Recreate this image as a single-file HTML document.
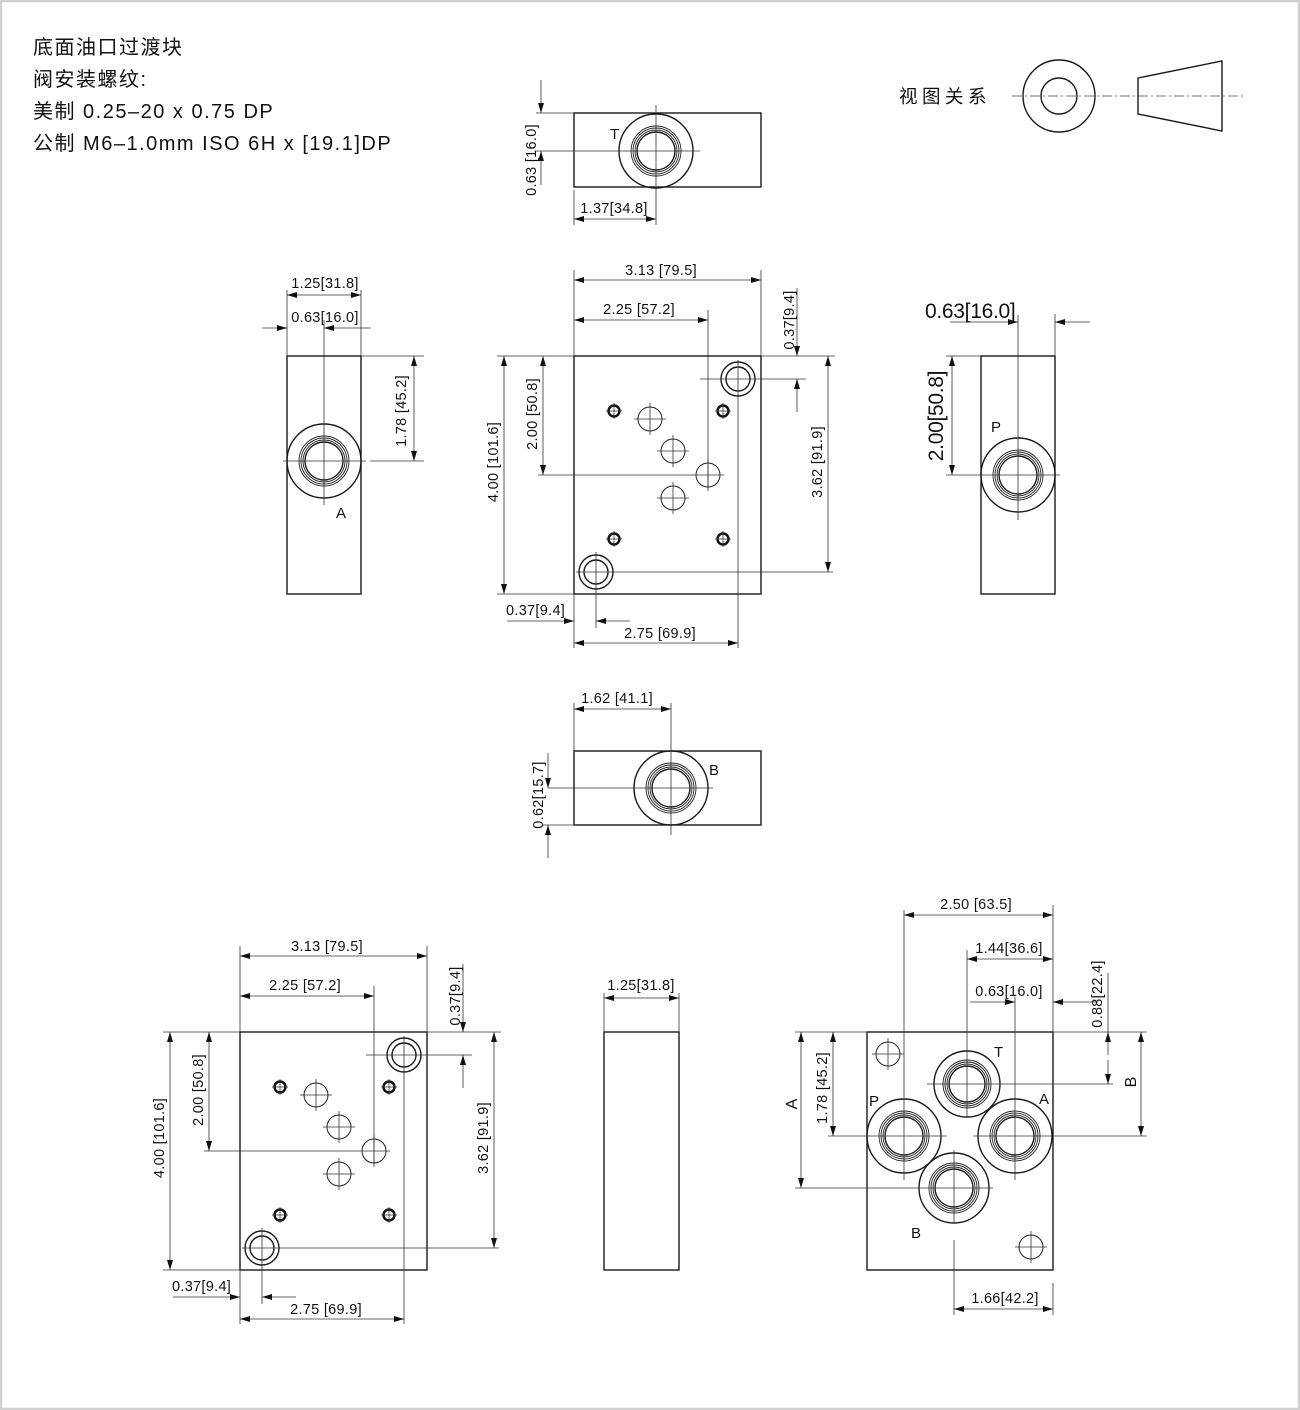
<!DOCTYPE html>
<html><head><meta charset="utf-8"><style>
html,body{margin:0;padding:0;background:#fff}
svg{display:block}
text{font-family:"Liberation Sans","Noto Sans CJK SC",sans-serif;fill:#111}
.d{font-size:14.5px;letter-spacing:0.3px}
.h{font-size:20px;letter-spacing:1.5px}
.o{fill:none;stroke:#1a1a1a;stroke-width:1.4}
.t{fill:none;stroke:#333;stroke-width:0.8}
.a{stroke:#333;stroke-width:0.8;marker-end:url(#ar)}
.b{stroke:#333;stroke-width:0.8;marker-end:url(#ar);marker-start:url(#ar)}
.r{fill:none;stroke:#222;stroke-width:0.9}
</style></head><body>
<svg width="1300" height="1410" viewBox="0 0 1300 1410" xmlns="http://www.w3.org/2000/svg">
<defs>
<marker id="ar" viewBox="0 0 10 6" refX="10" refY="3" markerWidth="10" markerHeight="6" markerUnits="userSpaceOnUse" orient="auto-start-reverse"><path d="M0,0L10,3L0,6z" fill="#111"/></marker>
</defs>
<rect x="1" y="1" width="1298" height="1408" fill="none" stroke="#d0d0d0" stroke-width="2.5"/>

<text class="h" x="33" y="54">底面油口过渡块</text>
<text class="h" x="33" y="86">阀安装螺纹:</text>
<text class="h" x="33" y="118">美制 0.25–20 x 0.75 DP</text>
<text class="h" x="33" y="150">公制 M6–1.0mm ISO 6H x [19.1]DP</text>

<text x="899" y="103" font-size="18.5" letter-spacing="4.5">视图关系</text>
<line x1="1012" y1="96" x2="1245" y2="96" stroke="#777" stroke-width="0.9" stroke-dasharray="10,3,2,3"/>
<circle cx="1059" cy="96" r="36" class="o"/>
<circle cx="1059" cy="96" r="18" class="o"/>
<path d="M1138,78 L1222,61 L1222,131 L1138,114 Z" class="o"/>

<rect x="574" y="113" width="187" height="74" class="o"/>
<circle cx="656" cy="151" r="37" class="o"/>
<circle cx="656" cy="151" r="19" class="o"/>
<circle cx="656" cy="151" r="21" class="r"/><circle cx="656" cy="151" r="23" class="r"/><circle cx="656" cy="151" r="25" class="r"/>
<line x1="656" y1="105" x2="656" y2="225" class="t"/>
<line x1="536" y1="151" x2="700" y2="151" class="t"/>
<line x1="536" y1="113" x2="574" y2="113" class="t"/>
<line x1="574" y1="190" x2="574" y2="225" class="t"/>
<line x1="541" y1="80" x2="541" y2="113" class="a"/>
<line x1="541" y1="185" x2="541" y2="151" class="a"/>
<text class="d" transform="translate(536,160) rotate(-90)" text-anchor="middle">0.63 [16.0]</text>
<line x1="574" y1="219" x2="656" y2="219" class="b"/>
<text class="d" x="614" y="213" text-anchor="middle">1.37[34.8]</text>
<text x="610" y="139" font-size="15">T</text>

<g id="mv">
<rect x="574" y="356" width="187" height="238" class="o"/>
<circle cx="738" cy="379" r="17" class="o"/><circle cx="738" cy="379" r="12" class="o"/>
<circle cx="596" cy="572" r="17" class="o"/><circle cx="596" cy="572" r="12" class="o"/>
<g fill="none" stroke="#111" stroke-width="2.4">
<circle cx="614" cy="411" r="5.5"/><circle cx="723" cy="411" r="5.5"/><circle cx="614" cy="539" r="5.5"/><circle cx="723" cy="539" r="5.5"/>
</g>
<g class="t">
<path d="M606,411h16M614,403v16M715,411h16M723,403v16M606,539h16M614,531v16M715,539h16M723,531v16"/>
</g>
<g fill="none" stroke="#222" stroke-width="1">
<circle cx="650" cy="419" r="12"/><circle cx="673" cy="451" r="12"/><circle cx="708" cy="475" r="12"/><circle cx="673" cy="498" r="12"/>
</g>
<path class="t" d="M634,419h32M650,403v32M657,451h32M673,435v32M657,498h32M673,482v32M708,459v32"/>
<line x1="574" y1="270" x2="574" y2="356" class="t"/>
<line x1="761" y1="270" x2="761" y2="356" class="t"/>
<line x1="574" y1="280" x2="761" y2="280" class="b"/>
<text class="d" x="661" y="275" text-anchor="middle">3.13 [79.5]</text>
<line x1="574" y1="320" x2="708" y2="320" class="b"/>
<line x1="708" y1="310" x2="708" y2="488" class="t"/>
<text class="d" x="639" y="314" text-anchor="middle">2.25 [57.2]</text>
<line x1="761" y1="356" x2="835" y2="356" class="t"/>
<line x1="700" y1="379" x2="806" y2="379" class="t"/>
<line x1="797" y1="288" x2="797" y2="356" class="a"/>
<line x1="797" y1="412" x2="797" y2="379" class="a"/>
<text class="d" transform="translate(794,320) rotate(-90)" text-anchor="middle">0.37[9.4]</text>
<line x1="497" y1="356" x2="574" y2="356" class="t"/>
<line x1="497" y1="594" x2="574" y2="594" class="t"/>
<line x1="504" y1="356" x2="504" y2="594" class="b"/>
<text class="d" transform="translate(498,462) rotate(-90)" text-anchor="middle">4.00 [101.6]</text>
<line x1="538" y1="475" x2="724" y2="475" class="t"/>
<line x1="543" y1="356" x2="543" y2="475" class="b"/>
<text class="d" transform="translate(537,414) rotate(-90)" text-anchor="middle">2.00 [50.8]</text>
<line x1="576" y1="572" x2="833" y2="572" class="t"/>
<line x1="828" y1="356" x2="828" y2="572" class="b"/>
<text class="d" transform="translate(822,462) rotate(-90)" text-anchor="middle">3.62 [91.9]</text>
<line x1="574" y1="594" x2="574" y2="648" class="t"/>
<line x1="596" y1="552" x2="596" y2="628" class="t"/>
<line x1="738" y1="360" x2="738" y2="648" class="t"/>
<line x1="507" y1="621" x2="574" y2="621" class="a"/>
<line x1="630" y1="621" x2="596" y2="621" class="a"/>
<text class="d" x="506" y="615">0.37[9.4]</text>
<line x1="574" y1="643" x2="738" y2="643" class="b"/>
<text class="d" x="660" y="638" text-anchor="middle">2.75 [69.9]</text>
</g>

<rect x="287" y="356" width="74" height="238" class="o"/>
<circle cx="324" cy="461" r="37" class="o"/>
<circle cx="324" cy="461" r="19" class="o"/>
<circle cx="324" cy="461" r="21" class="r"/><circle cx="324" cy="461" r="23" class="r"/><circle cx="324" cy="461" r="25" class="r"/>
<line x1="324" y1="320" x2="324" y2="505" class="t"/>
<line x1="283" y1="461" x2="366" y2="461" class="t"/>
<line x1="287" y1="290" x2="287" y2="356" class="t"/>
<line x1="361" y1="290" x2="361" y2="356" class="t"/>
<line x1="287" y1="295" x2="361" y2="295" class="b"/>
<text class="d" x="325" y="288" text-anchor="middle">1.25[31.8]</text>
<line x1="262" y1="328" x2="287" y2="328" class="a"/>
<line x1="371" y1="328" x2="324" y2="328" class="a"/>
<text class="d" x="325" y="322" text-anchor="middle">0.63[16.0]</text>
<line x1="361" y1="356" x2="424" y2="356" class="t"/>
<line x1="370" y1="461" x2="424" y2="461" class="t"/>
<line x1="414" y1="356" x2="414" y2="461" class="b"/>
<text class="d" transform="translate(406,411) rotate(-90)" text-anchor="middle">1.78 [45.2]</text>
<text x="336" y="518" font-size="15">A</text>

<rect x="981" y="356" width="74" height="238" class="o"/>
<circle cx="1018" cy="475" r="37" class="o"/>
<circle cx="1018" cy="475" r="19" class="o"/>
<circle cx="1018" cy="475" r="21" class="r"/><circle cx="1018" cy="475" r="23" class="r"/><circle cx="1018" cy="475" r="25" class="r"/>
<line x1="1018" y1="315" x2="1018" y2="520" class="t"/>
<line x1="946" y1="475" x2="1060" y2="475" class="t"/>
<line x1="946" y1="356" x2="981" y2="356" class="t"/>
<line x1="1055" y1="314" x2="1055" y2="356" class="t"/>
<line x1="950" y1="322" x2="1018" y2="322" class="a"/>
<line x1="1090" y1="322" x2="1055" y2="322" class="a"/>
<text x="925" y="318" font-size="21" letter-spacing="-0.3">0.63[16.0]</text>
<line x1="952" y1="356" x2="952" y2="475" class="b"/>
<text transform="translate(943,416) rotate(-90)" text-anchor="middle" font-size="21" letter-spacing="-0.3">2.00[50.8]</text>
<text x="991" y="432" font-size="15">P</text>

<rect x="574" y="751" width="187" height="74" class="o"/>
<circle cx="671" cy="788" r="37" class="o"/>
<circle cx="671" cy="788" r="19" class="o"/>
<circle cx="671" cy="788" r="21" class="r"/><circle cx="671" cy="788" r="23" class="r"/><circle cx="671" cy="788" r="25" class="r"/>
<line x1="671" y1="703" x2="671" y2="835" class="t"/>
<line x1="548" y1="788" x2="713" y2="788" class="t"/>
<line x1="543" y1="825" x2="574" y2="825" class="t"/>
<line x1="574" y1="703" x2="574" y2="751" class="t"/>
<line x1="574" y1="709" x2="671" y2="709" class="b"/>
<text class="d" x="617" y="703" text-anchor="middle">1.62 [41.1]</text>
<line x1="548" y1="753" x2="548" y2="788" class="a"/>
<line x1="548" y1="858" x2="548" y2="825" class="a"/>
<text class="d" transform="translate(543,795) rotate(-90)" text-anchor="middle">0.62[15.7]</text>
<text x="709" y="775" font-size="15">B</text>

<use href="#mv" transform="translate(-334,676)"/>

<rect x="604" y="1032" width="75" height="238" class="o"/>
<line x1="604" y1="993" x2="604" y2="1032" class="t"/>
<line x1="679" y1="993" x2="679" y2="1032" class="t"/>
<line x1="604" y1="998" x2="679" y2="998" class="b"/>
<text class="d" x="641" y="990" text-anchor="middle">1.25[31.8]</text>

<rect x="867" y="1032" width="186" height="238" class="o"/>
<circle cx="888" cy="1054" r="12" fill="none" stroke="#222" stroke-width="1"/>
<circle cx="1031" cy="1247" r="12" fill="none" stroke="#222" stroke-width="1"/>
<path class="t" d="M872,1054h32M888,1038v32M1015,1247h32M1031,1231v32"/>
<g>
<circle cx="967" cy="1084" r="33" class="o"/><circle cx="967" cy="1084" r="18" class="o"/>
<circle cx="967" cy="1084" r="20" class="r"/><circle cx="967" cy="1084" r="22" class="r"/><circle cx="967" cy="1084" r="24" class="r"/>
<circle cx="904" cy="1136" r="37" class="o"/><circle cx="904" cy="1136" r="19" class="o"/>
<circle cx="904" cy="1136" r="21" class="r"/><circle cx="904" cy="1136" r="23" class="r"/><circle cx="904" cy="1136" r="25" class="r"/>
<circle cx="1015" cy="1136" r="37" class="o"/><circle cx="1015" cy="1136" r="19" class="o"/>
<circle cx="1015" cy="1136" r="21" class="r"/><circle cx="1015" cy="1136" r="23" class="r"/><circle cx="1015" cy="1136" r="25" class="r"/>
<circle cx="954" cy="1188" r="35" class="o"/><circle cx="954" cy="1188" r="19" class="o"/>
<circle cx="954" cy="1188" r="21" class="r"/><circle cx="954" cy="1188" r="23" class="r"/><circle cx="954" cy="1188" r="25" class="r"/>
</g>
<g class="t">
<line x1="904" y1="910" x2="904" y2="1180"/>
<line x1="1053" y1="905" x2="1053" y2="1032"/>
<line x1="967" y1="950" x2="967" y2="1117"/>
<line x1="1015" y1="997" x2="1015" y2="1180"/>
<line x1="927" y1="1084" x2="1113" y2="1084"/>
<line x1="1053" y1="1032" x2="1147" y2="1032"/>
<line x1="973" y1="1136" x2="1147" y2="1136"/>
<line x1="828" y1="1136" x2="947" y2="1136"/>
<line x1="795" y1="1032" x2="867" y2="1032"/>
<line x1="795" y1="1188" x2="993" y2="1188"/>
<line x1="954" y1="1150" x2="954" y2="1222"/>
<line x1="954" y1="1240" x2="954" y2="1315"/>
<line x1="1053" y1="1283" x2="1053" y2="1315"/>
</g>
<line x1="904" y1="915" x2="1053" y2="915" class="b"/>
<text class="d" x="976" y="909" text-anchor="middle">2.50 [63.5]</text>
<line x1="967" y1="959" x2="1053" y2="959" class="b"/>
<text class="d" x="1009" y="953" text-anchor="middle">1.44[36.6]</text>
<line x1="970" y1="1002" x2="1015" y2="1002" class="a"/>
<line x1="1098" y1="1002" x2="1053" y2="1002" class="a"/>
<text class="d" x="1009" y="996" text-anchor="middle">0.63[16.0]</text>
<line x1="1108" y1="973" x2="1108" y2="1032" class="t"/>
<line x1="1108" y1="1055" x2="1108" y2="1032" class="a"/>
<line x1="1108" y1="1060" x2="1108" y2="1084" class="a"/>
<text class="d" transform="translate(1102,994) rotate(-90)" text-anchor="middle">0.88[22.4]</text>
<line x1="1141" y1="1032" x2="1141" y2="1136" class="b"/>
<text transform="translate(1136,1082) rotate(-90)" text-anchor="middle" font-size="16">B</text>
<line x1="833" y1="1032" x2="833" y2="1136" class="b"/>
<text class="d" transform="translate(827,1088) rotate(-90)" text-anchor="middle">1.78 [45.2]</text>
<line x1="801" y1="1032" x2="801" y2="1188" class="b"/>
<text transform="translate(797,1104) rotate(-90)" text-anchor="middle" font-size="16">A</text>
<line x1="954" y1="1309" x2="1053" y2="1309" class="b"/>
<text class="d" x="1005" y="1303" text-anchor="middle">1.66[42.2]</text>
<text x="994" y="1057" font-size="15">T</text>
<text x="869" y="1106" font-size="15">P</text>
<text x="1039" y="1104" font-size="15">A</text>
<text x="911" y="1238" font-size="15">B</text>
</svg>
</body></html>
